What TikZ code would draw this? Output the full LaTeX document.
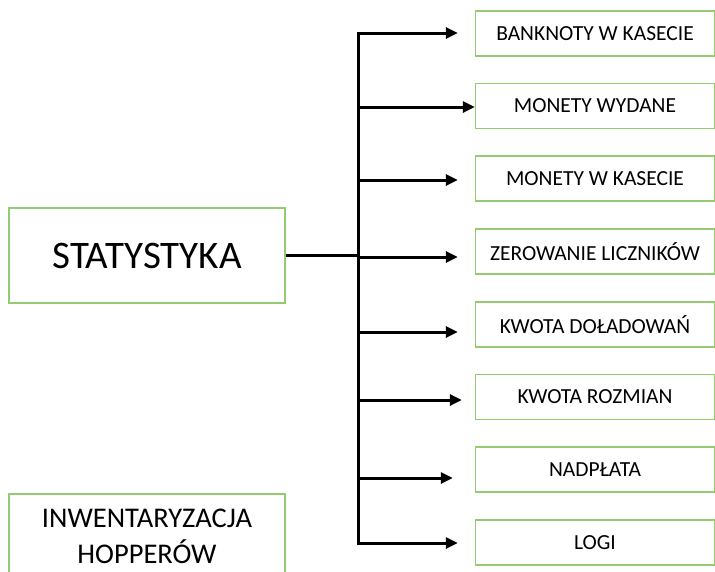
\documentclass[tikz,border=0pt]{standalone}
\usepackage{fontspec}
\setmainfont{Carlito}
\usepackage{tikz}
\usetikzlibrary{arrows.meta,positioning}
\definecolor{boxgreen}{RGB}{146,204,110}

\begin{document}
\begin{tikzpicture}[
  x=1pt, y=-1pt,
  box/.style={draw=boxgreen, line width=1.4pt, minimum height=45pt, minimum width=239pt, align=center, inner sep=2pt, font=\fontsize{21.5}{24}\selectfont},
  bigbox/.style={box, minimum width=276pt, minimum height=95pt},
  arr/.style={-{Triangle[length=12pt,width=11pt]}, line width=3pt, shorten >=17pt},
  wire/.style={line width=3pt},
]
\useasboundingbox (0,0) rectangle (715,571);
% ---------------- left column ----------------
\node[bigbox, font=\fontsize{39}{44}\selectfont] (stat) at (147,255.5) {STATYSTYKA};
\node[bigbox, minimum height=84pt, font=\fontsize{28.5}{36}\selectfont] (inw) at (147,536) {INWENTARYZACJA\\HOPPERÓW};
% ---------------- right column ----------------
\node[box] (bank) at (595,33.5) {BANKNOTY W KASECIE};
\node[box] (wyd) at (595,106) {MONETY WYDANE};
\node[box] (kas) at (595,178.5) {MONETY W KASECIE};
\node[box] (zer) at (595,251.5) {ZEROWANIE LICZNIKÓW};
\node[box] (dol) at (595,324.5) {KWOTA DOŁADOWAŃ};
\node[box] (roz) at (595,397) {KWOTA ROZMIAN};
\node[box] (nad) at (595,469.5) {NADPŁATA};
\node[box] (logi) at (595,542.5) {LOGI};
% ---------------- trunk ----------------
\coordinate (j1) at (358,33);
\coordinate (j2) at (358,107);
\coordinate (j3) at (358,180);
\coordinate (j4) at (358,257);
\coordinate (j5) at (358,332);
\coordinate (j6) at (358,400);
\coordinate (j7) at (358,478);
\coordinate (j8) at (358,543);
\draw[wire, line cap=rect] (j1) -- (j8);
\draw[wire] (stat.east) -- (stat.east -| j4);
\draw[arr] (j1) -- (j1 -| bank.west);
\draw[arr, shorten >=0pt] (j2) -- (j2 -| wyd.west);
\draw[arr] (j3) -- (j3 -| kas.west);
\draw[arr] (j4) -- (j4 -| zer.west);
\draw[arr] (j5) -- (j5 -| dol.west);
\draw[arr, shorten >=13pt] (j6) -- (j6 -| roz.west);
\draw[arr, shorten >=22pt] (j7) -- (j7 -| nad.west);
\draw[arr] (j8) -- (j8 -| logi.west);
\end{tikzpicture}
\end{document}
